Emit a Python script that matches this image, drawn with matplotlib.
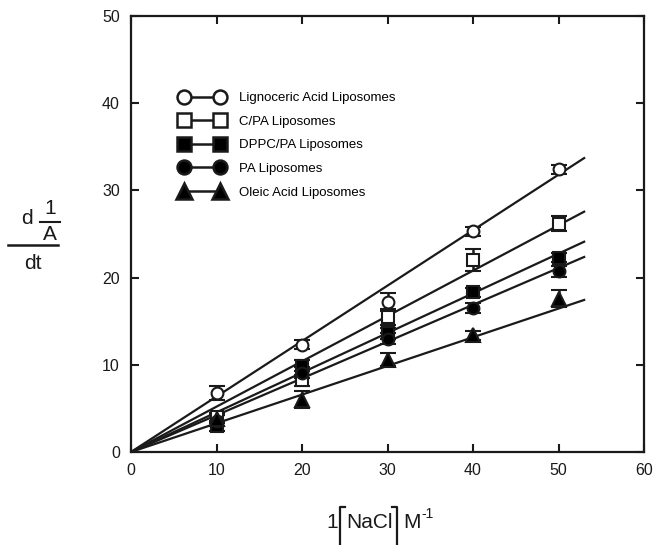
import matplotlib
matplotlib.use("Agg")
import matplotlib.pyplot as plt
from matplotlib.lines import Line2D
import numpy as np

plt.rcParams["font.family"] = ["Liberation Sans", "DejaVu Sans"]

# 1/[NaCl] (M^-1)
x = [10, 20, 30, 40, 50]

lignoceric = [6.8, 12.3, 17.2, 25.3, 32.4]
lignoceric_err = [0.8, 0.5, 1.0, 0.5, 0.5]
cpa = [4.0, 8.2, 15.5, 22.0, 26.2]
cpa_err = [0.5, 0.6, 0.9, 1.3, 0.9]
dppc_pa = [3.0, 9.9, 13.6, 18.3, 22.3]
dppc_pa_err = [0.6, 0.6, 0.6, 0.5, 0.5]
pa = [3.6, 9.1, 13.0, 16.5, 20.7]
pa_err = [0.6, 0.6, 0.6, 0.6, 0.6]
oleic = [3.8, 6.0, 10.6, 13.4, 17.6]
oleic_err = [0.5, 1.0, 0.7, 0.5, 1.0]

# fitted slopes of the lines through the origin
slopes = [0.636, 0.52, 0.455, 0.422, 0.329]
fit_xmax = 53

labels = [
    "Lignoceric Acid Liposomes",
    "C/PA Liposomes",
    "DPPC/PA Liposomes",
    "PA Liposomes",
    "Oleic Acid Liposomes",
]
markers = ["o", "s", "s", "o", "^"]
faces = ["white", "white", "black", "black", "black"]
series = [lignoceric, cpa, dppc_pa, pa, oleic]
errors = [lignoceric_err, cpa_err, dppc_pa_err, pa_err, oleic_err]

INK = "#1a1a1a"
W, H = 656, 545

fig = plt.figure(figsize=(W / 100, H / 100), dpi=100, facecolor="white")
ax = fig.add_axes([131 / W, 1 - 452 / H, (644 - 131) / W, (452 - 16) / H])

xfit = np.array([0, fit_xmax])
handles = []
for y, e, m, fc, k, lab in zip(series, errors, markers, faces, slopes, labels):
    ax.plot(xfit, k * xfit, color=INK, lw=1.6, zorder=2)
    ax.errorbar(x, y, yerr=e, fmt=m, ms=8.5 if m != "^" else 9.5, mfc=fc,
                mec=INK, mew=1.5, ecolor=INK, elinewidth=1.8, capsize=6,
                capthick=2.4, zorder=3)
    handles.append(Line2D([], [], color=INK, lw=1.8, marker=m,
                          ms=10 if m != "^" else 11, mfc=fc, mec=INK, mew=1.8,
                          label=lab))

ax.set_xlim(0, 60)
ax.set_ylim(0, 50)
ax.set_xticks(range(0, 61, 10))
ax.set_yticks(range(0, 51, 10))
ax.tick_params(direction="in", length=6, width=1.5, top=True, right=True,
               labelsize=11.5, colors=INK, pad=8)
for s in ax.spines.values():
    s.set_linewidth(1.6)
    s.set_color(INK)

fig.legend(handles=handles, loc="upper left",
           bbox_to_anchor=(180 / W, 1 - 92 / H), frameon=False, numpoints=2,
           handlelength=3.3, handletextpad=1.2, labelspacing=0.86,
           fontsize=9.5, borderpad=0, borderaxespad=0)


def fx(px):
    return px / W


def fy(py):
    return 1 - py / H


# y-axis label: d(1/A)/dt
fs = 15
fig.text(fx(27), fy(218), "d", fontsize=fs, ha="center", va="center", color=INK)
fig.text(fx(50), fy(208), "1", fontsize=fs, ha="center", va="center", color=INK)
fig.add_artist(Line2D([fx(40), fx(60)], [fy(222), fy(222)], lw=1.5, color=INK))
fig.text(fx(50), fy(234), "A", fontsize=fs, ha="center", va="center", color=INK)
fig.add_artist(Line2D([fx(8), fx(58)], [fy(245), fy(245)], lw=1.8, color=INK))
fig.text(fx(33), fy(263), "dt", fontsize=fs, ha="center", va="center", color=INK)

# x-axis label: 1[NaCl]M^-1
fig.text(fx(332), fy(523), "1", fontsize=fs, ha="center", va="center", color=INK)
fig.text(fx(369), fy(523), "NaCl", fontsize=fs, ha="center", va="center", color=INK)
fig.text(fx(412), fy(523), "M", fontsize=fs, ha="center", va="center", color=INK)
fig.text(fx(421), fy(514), "-1", fontsize=10, ha="left", va="center", color=INK)
for xs in ([345, 340, 340], [392, 397, 397]):
    fig.add_artist(Line2D([fx(xs[0]), fx(xs[1]), fx(xs[2])],
                          [fy(507), fy(507), fy(545)], lw=1.6, color=INK))

fig.savefig("out.png", dpi=100, facecolor="white")
